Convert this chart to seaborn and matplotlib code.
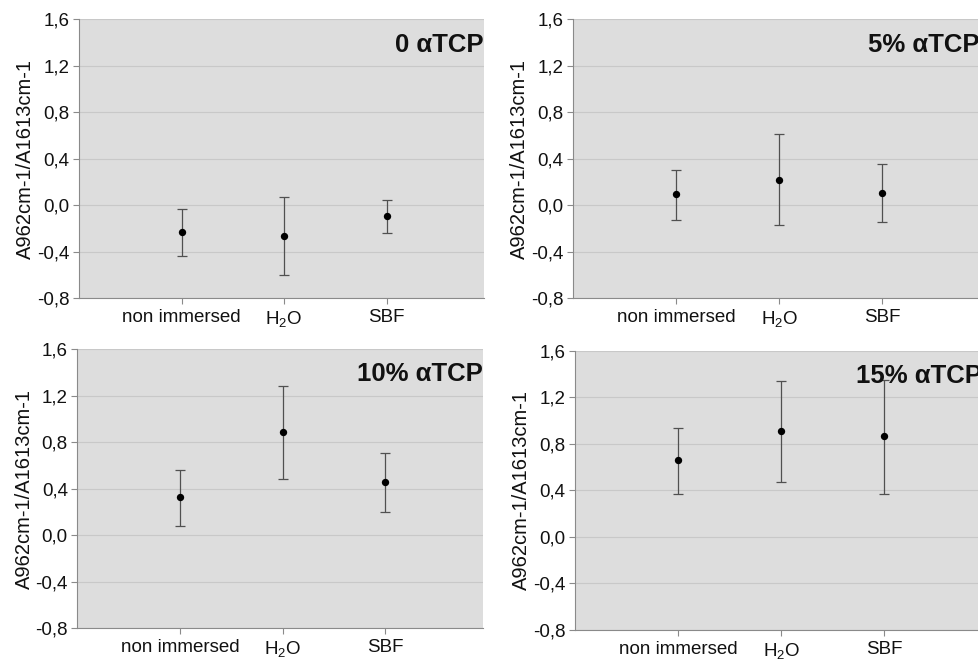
import numpy as np
import pandas as pd
import matplotlib
matplotlib.use("Agg")
import matplotlib.pyplot as plt
import seaborn as sns
from matplotlib.ticker import FuncFormatter, FixedLocator

sns.set_theme(style="white")
plt.rcParams['font.family'] = ['Liberation Sans', 'DejaVu Sans']
plt.rcParams['mathtext.fontset'] = 'custom'
plt.rcParams['mathtext.rm'] = 'Liberation Sans'
plt.rcParams['mathtext.it'] = 'Liberation Sans'

categories = ["non immersed", "H$_2$O", "SBF"]
panel_titles = ["0 \u03b1TCP", "5% \u03b1TCP", "10% \u03b1TCP", "15% \u03b1TCP"]

means_0 = [-0.233, -0.270, -0.095]
upper_0 = [-0.037, 0.069, 0.046]
lower_0 = [-0.434, -0.606, -0.239]

means_5 = [0.095, 0.221, 0.103]
upper_5 = [0.304, 0.611, 0.353]
lower_5 = [-0.126, -0.175, -0.149]

means_10 = [0.327, 0.886, 0.456]
upper_10 = [0.562, 1.282, 0.711]
lower_10 = [0.080, 0.482, 0.195]

means_15 = [0.659, 0.908, 0.871]
upper_15 = [0.940, 1.338, 1.352]
lower_15 = [0.372, 0.476, 0.372]

y_ticks = [-0.8, -0.4, 0.0, 0.4, 0.8, 1.2, 1.6]
y_label = "A962cm-1/A1613cm-1"

panels = [
    (means_0, upper_0, lower_0),
    (means_5, upper_5, lower_5),
    (means_10, upper_10, lower_10),
    (means_15, upper_15, lower_15),
]

W, H = 979, 663
fig = plt.figure(figsize=(W / 100, H / 100), dpi=100)
fig.patch.set_facecolor("white")

# pixel boxes: left, right, top, bottom
boxes = [
    (79, 484, 19.5, 298),
    (573, 980, 19.5, 298),
    (77.5, 483, 349.3, 628),
    (575, 982, 350.7, 630),
]

for (m, up, lo), (l, r, t, b), title in zip(panels, boxes, panel_titles):
    ax = fig.add_axes([l / W, 1 - b / H, (r - l) / W, (b - t) / H])
    ax.set_facecolor("#dddddd")
    df = pd.DataFrame({"cat": categories, "val": m})
    yerr = [np.array(m) - np.array(lo), np.array(up) - np.array(m)]
    ax.errorbar(np.arange(len(categories)), m, yerr=yerr, fmt="none",
                ecolor="#505050", elinewidth=0.9, capsize=3.6, capthick=0.9, zorder=3)
    sns.scatterplot(data=df, x="cat", y="val", ax=ax, color="black", s=28,
                    edgecolor="black", linewidth=0, zorder=4)
    ax.set_xlim(-1, 2.95)
    ax.set_ylim(-0.8, 1.6)
    ax.yaxis.set_major_locator(FixedLocator(y_ticks))
    ax.yaxis.set_major_formatter(FuncFormatter(lambda v, p: f"{v:.1f}".replace(".", ",")))
    ax.set_xticks(range(len(categories)))
    ax.set_xticklabels(categories)
    ax.grid(axis="y", color="#c8c8c8", linewidth=0.8)
    ax.set_axisbelow(True)
    for s in ["top", "right"]:
        ax.spines[s].set_visible(False)
    for s in ["left", "bottom"]:
        ax.spines[s].set_color("#8a8a8a")
        ax.spines[s].set_linewidth(0.8)
    ax.tick_params(axis="y", which="major", left=True, length=4, width=0.8,
                   color="#8a8a8a", labelsize=13.5, pad=3, labelcolor="#111111")
    ax.tick_params(axis="x", which="major", bottom=True, length=4, width=0.8,
                   color="#8a8a8a", labelsize=13.5, pad=4, labelcolor="#111111")
    ax.set_xlabel("")
    ax.set_ylabel(y_label, fontsize=14.5, color="#111111", labelpad=1)
    ax.text(1.0, 0.91, title, transform=ax.transAxes, ha="right", va="center",
            fontsize=18.5, fontweight="bold", color="#111111", clip_on=True)

fig.savefig("out.png", dpi=100, facecolor="white")
